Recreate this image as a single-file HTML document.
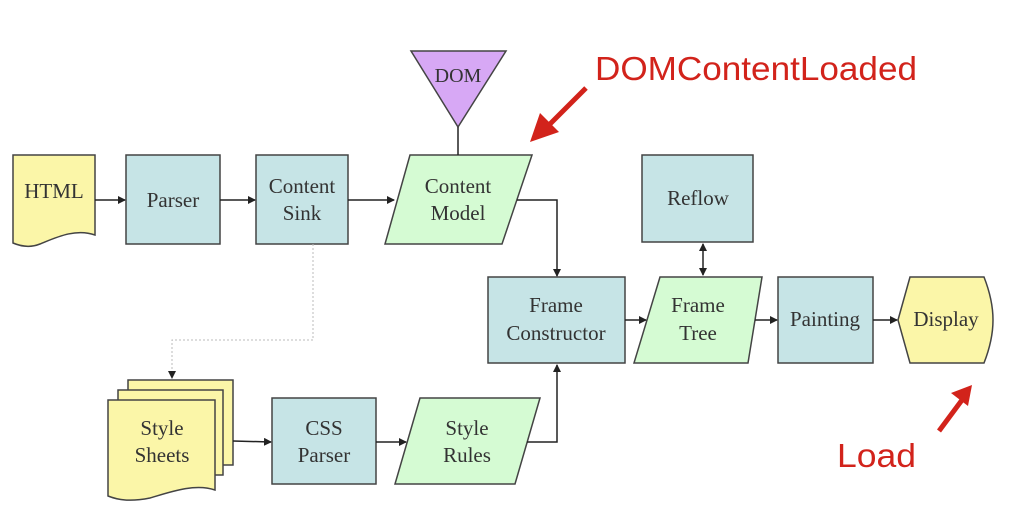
<!DOCTYPE html>
<html><head><meta charset="utf-8"><style>
html,body{margin:0;padding:0;background:#fff;}
svg{display:block}
.t{font-family:"Liberation Serif",serif;font-size:21px;fill:#333;text-anchor:middle}
.r{font-family:"Liberation Sans",sans-serif;font-size:33px;fill:#d2231b}
</style></head><body>
<svg width="1009" height="505" viewBox="0 0 1009 505" xmlns="http://www.w3.org/2000/svg">
<defs>
<marker id="a" markerWidth="8" markerHeight="8" refX="7" refY="4" orient="auto" markerUnits="userSpaceOnUse"><path d="M0,0 L8,4 L0,8 z" fill="#222"/></marker>
<marker id="b" markerWidth="8" markerHeight="8" refX="1" refY="4" orient="auto" markerUnits="userSpaceOnUse"><path d="M8,0 L0,4 L8,8 z" fill="#222"/></marker>
</defs>
<g stroke="#444" stroke-width="1.5">
<path d="M13,155 H95 V235 C75,228 55,238 40,244 C30,248 20,246 13,243 Z" fill="#fbf6a8"/>
<rect x="126" y="155" width="94" height="89" fill="#c6e4e6"/>
<rect x="256" y="155" width="92" height="89" fill="#c6e4e6"/>
<polygon points="410,155 532,155 502,244 385,244" fill="#d5fbd3"/>
<polygon points="411,51 506,51 458,127" fill="#d7a8f5"/>
<rect x="642" y="155" width="111" height="87" fill="#c6e4e6"/>
<rect x="488" y="277" width="137" height="86" fill="#c6e4e6"/>
<polygon points="660,277 762,277 748,363 634,363" fill="#d5fbd3"/>
<rect x="778" y="277" width="95" height="86" fill="#c6e4e6"/>
<path d="M898,320 L910,277 H984 Q993,300 993,320 Q993,340 984,363 H910 Z" fill="#fbf6a8"/>
<path d="M128,380 H233 V465 H128 Z" fill="#fbf6a8"/>
<path d="M118,390 H223 V475 H118 Z" fill="#fbf6a8"/>
<path d="M108,400 H215 V490 C195,483 170,492 150,498 C130,502 118,500 108,496 Z" fill="#fbf6a8"/>
<rect x="272" y="398" width="104" height="86" fill="#c6e4e6"/>
<polygon points="420,398 540,398 515,484 395,484" fill="#d5fbd3"/>
</g>
<g stroke="#222" stroke-width="1.5" fill="none">
<line x1="95" y1="200" x2="125" y2="200" marker-end="url(#a)"/>
<line x1="220" y1="200" x2="255" y2="200" marker-end="url(#a)"/>
<line x1="348" y1="200" x2="394" y2="200" marker-end="url(#a)"/>
<line x1="458" y1="127" x2="458" y2="155"/>
<path d="M517,200 H557 V276" marker-end="url(#a)"/>
<line x1="625" y1="320" x2="646" y2="320" marker-end="url(#a)"/>
<line x1="703" y1="244" x2="703" y2="275" marker-start="url(#b)" marker-end="url(#a)"/>
<line x1="755" y1="320" x2="777" y2="320" marker-end="url(#a)"/>
<line x1="873" y1="320" x2="897" y2="320" marker-end="url(#a)"/>
<line x1="233" y1="441" x2="271" y2="442" marker-end="url(#a)"/>
<line x1="376" y1="442" x2="406" y2="442" marker-end="url(#a)"/>
<path d="M527,442 H557 V365" marker-end="url(#a)"/>
</g>
<path d="M313,244 V340 H172 V378" stroke="#bbb" stroke-width="1" stroke-dasharray="2,2" fill="none" marker-end="url(#a)"/>
<text class="t" x="54" y="198">HTML</text>
<text class="t" x="173" y="207">Parser</text>
<text class="t" x="302" y="193">Content</text>
<text class="t" x="302" y="220">Sink</text>
<text class="t" x="458" y="193">Content</text>
<text class="t" x="458" y="220">Model</text>
<text class="t" x="458" y="82" style="font-size:20px">DOM</text>
<text class="t" x="698" y="205">Reflow</text>
<text class="t" x="556" y="312">Frame</text>
<text class="t" x="556" y="340">Constructor</text>
<text class="t" x="698" y="312">Frame</text>
<text class="t" x="698" y="340">Tree</text>
<text class="t" x="825" y="326">Painting</text>
<text class="t" x="946" y="326">Display</text>
<text class="t" x="162" y="435">Style</text>
<text class="t" x="162" y="462">Sheets</text>
<text class="t" x="324" y="435">CSS</text>
<text class="t" x="324" y="462">Parser</text>
<text class="t" x="467" y="435">Style</text>
<text class="t" x="467" y="462">Rules</text>
<text class="r" x="595" y="80" textLength="322" lengthAdjust="spacingAndGlyphs">DOMContentLoaded</text>
<text class="r" x="837" y="467" textLength="79" lengthAdjust="spacingAndGlyphs">Load</text>
<g fill="#d2231b" stroke="#d2231b">
<line x1="586" y1="88" x2="548" y2="126" stroke-width="5"/>
<polygon points="530,142 540,113 559,132" stroke="none"/>
<line x1="939" y1="431" x2="962" y2="400" stroke-width="5"/>
<polygon points="972,385 951,393 968,406" stroke="none"/>
</g>
</svg>
</body></html>
